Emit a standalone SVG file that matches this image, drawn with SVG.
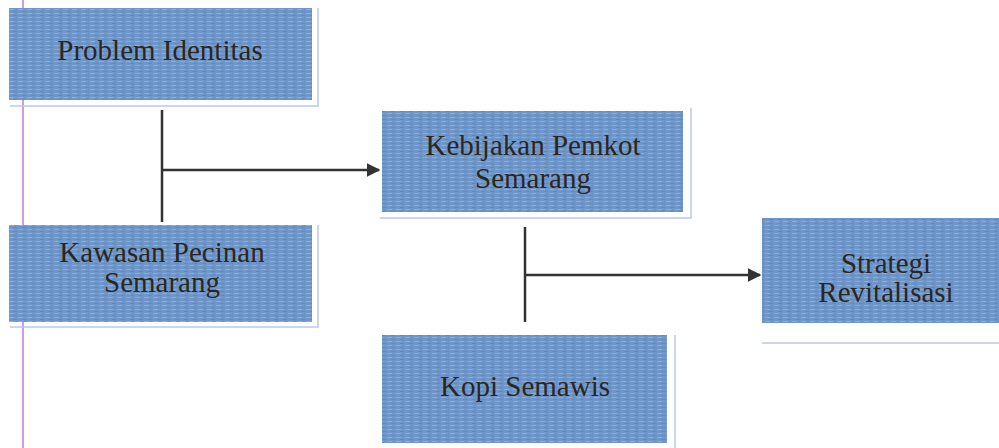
<svg xmlns="http://www.w3.org/2000/svg" width="999" height="448" viewBox="0 0 999 448">
  <defs>
    <pattern id="tex" width="9" height="4" patternUnits="userSpaceOnUse">
      <rect width="9" height="4" fill="#6f96c8"/>
      <rect x="0" y="1" width="5" height="1" fill="#a3bde0" opacity="0.6"/>
      <rect x="4" y="3" width="4" height="1" fill="#5a82b8" opacity="0.6"/>
    </pattern>
    <marker id="arr" viewBox="0 0 10 10" refX="9" refY="5" markerWidth="5.5" markerHeight="5.5" orient="auto" markerUnits="strokeWidth">
      <path d="M0,0 L10,5 L0,10 Z" fill="#333"/>
    </marker>
  </defs>
  <style>
    .box { fill: url(#tex); }
    .shadow { fill: none; stroke: #b9c9e2; stroke-width: 1.5; }
    .lbl { font-family: "Liberation Serif", "Times New Roman", serif; font-size: 29px; fill: #2b2620; text-anchor: middle; }
    .con { stroke: #333; stroke-width: 2.5; fill: none; }
  </style>
  <rect width="999" height="448" fill="#ffffff"/>
  <line x1="23" y1="0" x2="23" y2="448" stroke="#c47ad8" stroke-width="1.5"/>

  <g id="problem-identitas">
    <path class="shadow" d="M318,8 V106 H10"/>
    <rect class="box" x="9" y="8" width="303" height="92"/>
    <text class="lbl" x="160" y="60">Problem Identitas</text>
  </g>

  <g id="kawasan-pecinan">
    <path class="shadow" d="M318,225 V327 H10"/>
    <rect class="box" x="9" y="225" width="303" height="97"/>
    <text class="lbl" x="162" y="262">Kawasan Pecinan</text>
    <text class="lbl" x="162" y="292">Semarang</text>
  </g>

  <g id="kebijakan-pemkot">
    <path class="shadow" d="M691,108 V218 H380"/>
    <rect class="box" x="382" y="111" width="301" height="101"/>
    <text class="lbl" x="533" y="155">Kebijakan Pemkot</text>
    <text class="lbl" x="533" y="188">Semarang</text>
  </g>

  <g id="kopi-semawis">
    <path class="shadow" d="M675,335 V448"/>
    <rect class="box" x="382" y="335" width="285" height="108"/>
    <text class="lbl" x="525" y="396">Kopi Semawis</text>
  </g>

  <g id="strategi-revitalisasi">
    <path class="shadow" d="M762,343 H999"/>
    <rect class="box" x="762" y="218" width="237" height="105"/>
    <text class="lbl" x="886" y="273">Strategi</text>
    <text class="lbl" x="886" y="302">Revitalisasi</text>
  </g>

  <g id="connectors">
    <line class="con" x1="162" y1="110" x2="162" y2="222"/>
    <line class="con" x1="162" y1="170" x2="379" y2="170" marker-end="url(#arr)"/>
    <line class="con" x1="525" y1="227" x2="525" y2="322"/>
    <line class="con" x1="525" y1="275" x2="760" y2="275" marker-end="url(#arr)"/>
  </g>
</svg>
